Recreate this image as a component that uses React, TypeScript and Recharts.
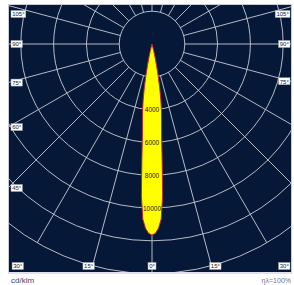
import { RadarChart, Radar, PolarGrid, PolarAngleAxis, PolarRadiusAxis } from "recharts";

// luminous intensity curve, C0-C180 plane (deg from nadir, cd/klm)
const angles = [-16, -15, -14, -13, -12, -11, -10, -9, -8, -7, -6, -5, -4, -3, -2, -1, 0, 1, 2, 3, 4, 5, 6, 7, 8, 9, 10, 11, 12, 13, 14, 15, 16];
const intensity = [0, 200, 450, 800, 1300, 1950, 2700, 3450, 4150, 4800, 5600, 7100, 9300, 10700, 11250, 11550, 11650, 11550, 11250, 10700, 9300, 7100, 5600, 4800, 4150, 3450, 2700, 1950, 1300, 800, 450, 200, 0];

const angleTicks = [-165, -150, -135, -120, -105, -90, -75, -60, -45, -30, -15, 0, 15, 30, 45, 60, 75, 90, 105, 120, 135, 150, 165, 180];
const ringTicks = [2000, 4000, 6000, 8000, 10000, 12000, 14000];
const ringLabels = [4000, 6000, 8000, 10000];
const leftLabels = [45, 60, 75, 90, 105];
const rightLabels = [-75, -90, -105];
const bottomLabels = [-30, -15, 0, 15, 30];

const data = angles.map((a, i) => ({ angle: a, cd: intensity[i] }));

const W = 284;
const H = 270;
const CX = 144;
const CY = 40;
const R_IN = 32.8;
const R_OUT = 229.6;
const NAVY = "#051838";
const GRID = "#c9ccd6";
const FONT = "'Liberation Sans', Arial, sans-serif";

const shownAngles = [...leftLabels, ...rightLabels, ...bottomLabels];

function AngleTick(props: any) {
  const v = props.payload?.value;
  if (!shownAngles.includes(v)) return null;
  const rad = (v * Math.PI) / 180;
  const dx = -Math.sin(rad);
  const dy = Math.cos(rad);
  const hits: { t: number; side: string }[] = [];
  if (dx < -1e-6) hits.push({ t: (0 - CX) / dx, side: "left" });
  if (dx > 1e-6) hits.push({ t: (W - 1 - CX) / dx, side: "right" });
  if (dy > 1e-6) hits.push({ t: (H - 1 - CY) / dy, side: "bottom" });
  if (dy < -1e-6) hits.push({ t: (0 - CY) / dy, side: "top" });
  hits.sort((a, b) => a.t - b.t);
  const { t } = hits[0];
  let side = hits[0].side;
  if (side === "top") side = dx < 0 ? "left" : "right";
  const hx = CX + dx * t;
  const hy = CY + dy * t;
  const text = `${Math.abs(v)}°`;
  const w = (text.length - 1) * 3.4 + 4.6;
  const h = 7;
  let bx = 0;
  let by = 0;
  if (side === "left") {
    bx = 3;
    by = Math.max(10, hy) - h / 2;
  } else if (side === "right") {
    bx = W - 2 - w;
    by = Math.max(10, hy) - h / 2;
  } else {
    // bottom labels sit a little outward of where the ray meets the frame
    const px = hx + (v === 0 ? 0 : Math.sign(dx) * 2);
    bx = Math.min(Math.max(px, w / 2 + 2), W - w / 2 - 2) - w / 2;
    by = H - 8 - h / 2;
  }
  return (
    <g>
      <rect x={bx} y={by} width={w} height={h} fill="#ffffff" stroke="#9aa0b0" strokeWidth={0.5} />
      <text
        x={bx + w / 2}
        y={by + h / 2 + 0.3}
        textAnchor="middle"
        dominantBaseline="central"
        fontSize={6}
        fontFamily={FONT}
        fill="#1a1a2a"
      >
        {text}
      </text>
    </g>
  );
}

function RingTick(props: any) {
  const v = props.payload?.value;
  if (!ringLabels.includes(v)) return null;
  return (
    <text
      x={props.x}
      y={props.y}
      textAnchor="middle"
      dominantBaseline="central"
      fontSize={6.5}
      fontFamily={FONT}
      fill="#222222"
    >
      {v}
    </text>
  );
}

export default function App() {
  return (
    <div style={{ position: "absolute", left: 0, top: 0, width: 294, height: 285, background: "#ffffff" }}>
      <div style={{ position: "absolute", left: 8, top: 4, width: W, height: H, background: NAVY, overflow: "hidden" }}>
        <RadarChart
          width={W}
          height={H}
          data={data}
          cx={CX}
          cy={CY}
          innerRadius={R_IN}
          outerRadius={R_OUT}
          startAngle={90}
          endAngle={-270}
          margin={{ top: 0, right: 0, bottom: 0, left: 0 }}
        >
          <Radar
            dataKey="cd"
            fill="#ffff00"
            fillOpacity={1}
            stroke="#b8283c"
            strokeWidth={1}
            dot={false}
            isAnimationActive={false}
          />
          <PolarGrid gridType="circle" stroke={GRID} strokeWidth={0.9} />
          <PolarAngleAxis
            dataKey="angle"
            type="number"
            domain={[-180, 180]}
            ticks={angleTicks}
            axisLine={false}
            tickLine={false}
            tick={<AngleTick />}
          />
          <PolarRadiusAxis
            angle={-90}
            type="number"
            domain={[2000, 14000]}
            allowDataOverflow
            ticks={ringTicks}
            axisLine={false}
            tickLine={false}
            tick={<RingTick />}
          />
        </RadarChart>
      </div>
      <div
        style={{
          position: "absolute",
          left: 8,
          top: 4,
          width: W,
          height: H,
          boxSizing: "border-box",
          borderTop: `1px solid ${GRID}`,
          borderLeft: `1px solid ${GRID}`,
          borderRight: `1px solid ${GRID}`,
          borderBottom: "2px solid #dfe2ea",
          pointerEvents: "none",
        }}
      />
      <div style={{ position: "absolute", left: 11, top: 276, fontSize: 8, fontFamily: FONT, color: "#3a4a70" }}>
        cd/klm
      </div>
      <div style={{ position: "absolute", right: 3, top: 277, fontSize: 7, fontFamily: FONT, color: "#6a7590" }}>
        ηλ=100%
      </div>
    </div>
  );
}
